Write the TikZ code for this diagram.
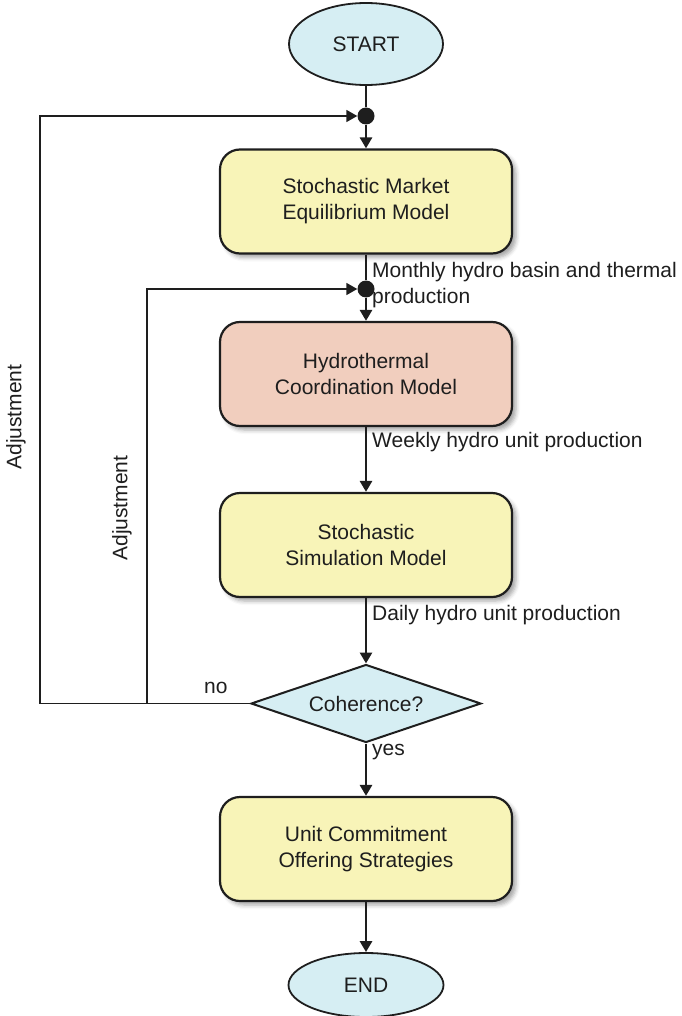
\documentclass[tikz,border=0pt]{standalone}
\usepackage{fontspec}
\setmainfont{Liberation Sans}
\usetikzlibrary{shapes.geometric,arrows.meta,shadows.blur}
\definecolor{boxyellow}{HTML}{F8F4B8}
\definecolor{boxsalmon}{HTML}{F1CEBE}
\definecolor{termblue}{HTML}{D6EEF3}
\definecolor{ink}{HTML}{1E1E1E}
\begin{document}
\begin{tikzpicture}[x=1pt,y=-1pt,
  every node/.style={font=\fontsize{21}{26}\selectfont, text=ink},
  stepbox/.style={draw=ink, line width=2.2pt, rectangle, rounded corners=20pt,
    minimum width=292pt, minimum height=104pt, align=center,
    blur shadow={shadow xshift=4pt, shadow yshift=-4pt, shadow blur radius=4pt, shadow opacity=35}},
  terminal/.style={draw=ink, line width=1.8pt, ellipse, fill=termblue, inner sep=0pt},
  decision/.style={draw=ink, line width=2pt, diamond, fill=termblue, inner sep=0pt,
    aspect=2.95, minimum width=230pt, minimum height=78pt},
  junction/.style={circle, fill=ink, inner sep=0pt, minimum size=17pt},
  flow/.style={draw=ink, line width=2.8pt},
  flowarrow/.style={flow, -{Triangle[length=11pt,width=12pt]}},
  feedback/.style={draw=ink, line width=1.7pt},
  feedbackarrow/.style={feedback, -{Triangle[length=11pt,width=12pt]}},
  flowlabel/.style={anchor=west, align=left, inner sep=0pt}
]
\useasboundingbox (0,0) rectangle (681,1016);

% terminals
\node[terminal, minimum width=154pt, minimum height=82pt] (start) at (366,44) {START};
\node[terminal, minimum width=155pt, minimum height=64pt] (end) at (366,985) {END};

% process boxes
\node[stepbox, fill=boxyellow] (market) at (366,201.5) {Stochastic Market\\Equilibrium Model};
\node[stepbox, fill=boxsalmon] (hydro) at (366,374) {Hydrothermal\\Coordination Model};
\node[stepbox, fill=boxyellow] (sim) at (366,545) {Stochastic\\Simulation Model};
\node[decision] (coh) at (366,703.5) {Coherence?};
\node[stepbox, fill=boxyellow] (uc) at (366,849) {Unit Commitment\\Offering Strategies};

% loop junctions
\node[junction] (j1) at (366,116) {};
\node[junction] (j2) at (366,289) {};

% main flow
\draw[flow] (start) -- (j1);
\draw[flowarrow] (j1) -- (market);
\draw[flow] (market) -- (j2);
\draw[flowarrow] (j2) -- (hydro);
\draw[flowarrow] (hydro) -- (sim);
\draw[flowarrow] (sim) -- (coh);
\draw[flowarrow] (coh) -- (uc);
\draw[flowarrow] (uc) -- (end);

% feedback loops
\coordinate (inner) at (147,703.5);
\coordinate (outer) at (40,703.5);
\draw[feedbackarrow] (coh.west) -- (inner) |- (j2);
\draw[feedbackarrow] (inner) -- (outer) |- (j1);

% labels
\node[flowlabel] (l1) at (372,285) {Monthly hydro basin and thermal\\production};
\node[flowlabel] (l2) at (372,442) {Weekly hydro unit production};
\node[flowlabel] (l3) at (372,615) {Daily hydro unit production};
\node[flowlabel] (lno) at (204,688) {no};
\node[flowlabel] (lyes) at (372,752) {yes};
\node[rotate=90] (adj1) at (16,417) {Adjustment};
\node[rotate=90] (adj2) at (122,508) {Adjustment};
\end{tikzpicture}
\end{document}
